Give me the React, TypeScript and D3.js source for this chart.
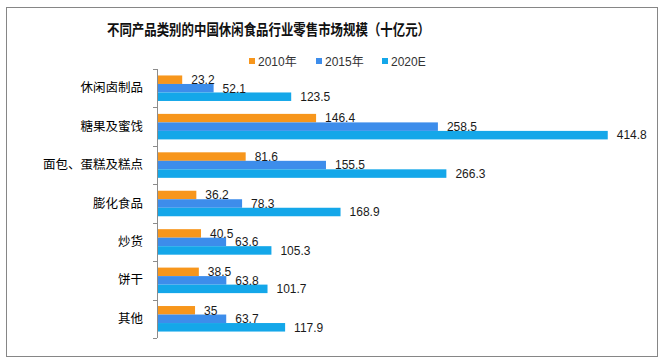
import { useEffect, useRef } from 'react';
import * as d3 from 'd3';

const categories = ['休闲卤制品', '糖果及蜜饯', '面包、蛋糕及糕点', '膨化食品', '炒货', '饼干', '其他'];
const seriesNames = ['2010年', '2015年', '2020E'];
const values2010 = [23.2, 146.4, 81.6, 36.2, 40.5, 38.5, 35];
const values2015 = [52.1, 258.5, 155.5, 78.3, 63.6, 63.8, 63.7];
const values2020 = [123.5, 414.8, 266.3, 168.9, 105.3, 101.7, 117.9];
const colors = ['#F7961C', '#3D8DEB', '#14A7E9'];

const App = () => {
  const chartRef = useRef(null);
  const width = 672;
  const height = 361;
  const plotLeft = 157;
  const plotRight = 646;
  const plotTop = 69;
  const plotBottom = 338;

  useEffect(() => {
    const svg = d3.select(chartRef.current);
    svg.selectAll('*').remove();

    const series = [values2010, values2015, values2020];
    const rows = categories.map((c, i) => ({
      cat: c,
      vals: series.map((s, j) => ({ key: seriesNames[j], value: s[i], idx: j })),
    }));

    const gap = 0.336;
    const y = d3.scaleBand()
      .domain(categories)
      .range([plotTop, plotBottom])
      .paddingInner(gap)
      .paddingOuter(gap / 2);

    const ySub = d3.scaleBand()
      .domain(seriesNames)
      .range([0, y.bandwidth()])
      .padding(0);

    const x = d3.scaleLinear()
      .domain([0, 450])
      .range([plotLeft, plotRight]);

    // outer frame
    svg.append('rect')
      .attr('x', 6.5).attr('y', 7.5)
      .attr('width', 651).attr('height', 349)
      .attr('fill', '#fff')
      .attr('stroke', '#868686');

    // title
    svg.append('text')
      .attr('x', 107).attr('y', 35)
      .attr('textLength', 323)
      .attr('lengthAdjust', 'spacingAndGlyphs')
      .attr('font-family', '"Noto Sans CJK SC", sans-serif')
      .attr('font-weight', 'bold')
      .attr('font-size', 15)
      .attr('fill', '#111')
      .text('不同产品类别的中国休闲食品行业零售市场规模（十亿元）');

    // legend
    const legendX = [249, 316, 382];
    const legend = svg.append('g');
    seriesNames.forEach((name, i) => {
      legend.append('rect')
        .attr('x', legendX[i]).attr('y', 58)
        .attr('width', 6).attr('height', 6)
        .attr('fill', colors[i]);
      legend.append('text')
        .attr('x', legendX[i] + 9).attr('y', 65.5)
        .attr('font-family', '"Liberation Sans", "Noto Sans CJK SC", sans-serif')
        .attr('font-size', 12)
        .attr('fill', '#333')
        .text(name);
    });

    // bars
    const groups = svg.selectAll('g.cat')
      .data(rows)
      .join('g')
      .attr('class', 'cat')
      .attr('transform', d => `translate(0,${y(d.cat)})`);

    groups.selectAll('rect')
      .data(d => d.vals)
      .join('rect')
      .attr('x', x(0))
      .attr('y', d => ySub(d.key))
      .attr('width', d => x(d.value) - x(0))
      .attr('height', ySub.bandwidth())
      .attr('fill', d => colors[d.idx]);

    groups.selectAll('text.val')
      .data(d => d.vals)
      .join('text')
      .attr('class', 'val')
      .attr('x', d => x(d.value) + 9)
      .attr('y', d => ySub(d.key) + ySub.bandwidth() / 2)
      .attr('dy', '0.36em')
      .attr('font-family', '"Liberation Sans", Arial, sans-serif')
      .attr('font-size', 12)
      .attr('fill', '#1a1a1a')
      .text(d => d.value);

    // vertical axis
    const axis = svg.append('g')
      .attr('transform', `translate(${plotLeft},0)`)
      .call(d3.axisLeft(y).tickSize(0).tickPadding(14).tickSizeOuter(0));
    axis.select('.domain').remove();
    axis.selectAll('text')
      .attr('font-family', '"Noto Sans CJK SC", sans-serif')
      .attr('font-size', 12.5)
      .attr('fill', '#000');

    const boundaries = d3.range(categories.length + 1).map(i => plotTop + i * y.step());
    svg.append('line')
      .attr('x1', plotLeft + 0.5).attr('x2', plotLeft + 0.5)
      .attr('y1', plotTop).attr('y2', plotBottom)
      .attr('stroke', '#8c8c8c');
    svg.selectAll('line.tick')
      .data(boundaries)
      .join('line')
      .attr('class', 'tick')
      .attr('x1', plotLeft - 4).attr('x2', plotLeft)
      .attr('y1', d => Math.round(d) + 0.5).attr('y2', d => Math.round(d) + 0.5)
      .attr('stroke', '#8c8c8c');
  }, []);

  return (
    <svg
      ref={chartRef}
      width={width}
      height={height}
      viewBox={`0 0 ${width} ${height}`}
      style={{ position: 'absolute', left: 0, top: 0, background: '#fff' }}
    />
  );
};

export default App;
